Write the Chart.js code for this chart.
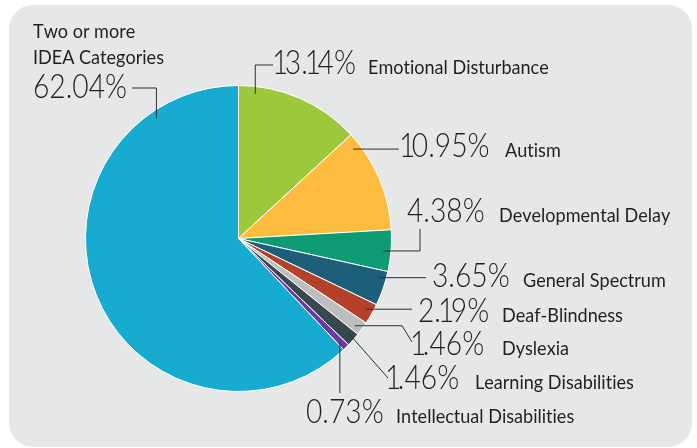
<!DOCTYPE html>
<html>
<head>
<meta charset="utf-8">
<script src="https://cdn.jsdelivr.net/npm/chart.js@4.4.0/dist/chart.umd.min.js"></script>
<style>
  body { margin: 0; background: #fff; }
  #wrap { position: relative; width: 697px; height: 448px; }
  #bg { position: absolute; left: 9px; top: 5px; width: 683px; height: 442px; background: #e6e7e8; border-radius: 24px; }
  canvas { position: absolute; left: 0; top: 0; }
</style>
</head>
<body>
<div id="wrap">
  <div id="bg"></div>
  <canvas id="pieChart" width="697" height="448"></canvas>
</div>
<script>
// Les données du graphique (ordre horaire depuis le haut)
let categories = [
  'Emotional Disturbance',
  'Autism',
  'Developmental Delay',
  'General Spectrum',
  'Deaf-Blindness',
  'Dyslexia',
  'Learning Disabilities',
  'Intellectual Disabilities',
  ['Two or more', 'IDEA Categories']
];
let percents = [13.14, 10.95, 4.38, 3.65, 2.19, 1.46, 1.46, 0.73, 62.04];
let colors = ['#9cc93c', '#fdbb3f', '#0e9a72', '#1d5e7b', '#b4422a', '#bcbec0', '#37484f', '#6b3a9e', '#17abd0'];

// Position des étiquettes : pourcentage, nom, et coude de la ligne de rappel
// (null = reprend la coordonnée du point précédent)
let labelLayout = [
  { frac: 0.14, pct: [275, 74], name: [368, 74], path: [[null, 65], [273, 65]] },
  { frac: 0.12, pct: [402, 157], name: [505, 157], path: [[399, null]] },
  { frac: 0.52, pct: [407, 222], name: [499, 222], path: [[420, null], [420, 229]] },
  { frac: 0.24, pct: [432, 287], name: [523, 287], path: [[426, null]] },
  { frac: 0.44, pct: [418, 322], name: [502, 322], path: [[412, null]] },
  { frac: 0.64, pct: [413, 355], name: [502, 355], path: [[402, null], [412, 342]] },
  { frac: 0.37, pct: [388, 389], name: [475, 389], path: [[388, 378]] },
  { frac: 0.67, pct: [306, 423], name: [396, 423], path: [[null, 393]] },
  { frac: 0.846, pct: [33, 98], name: [33, 38], path: [[null, 88], [132, 88]] }
];

const textColor = '#231f20';

// Texte compressé horizontalement, caractère par caractère (le "1" est plus étroit)
function drawText(ctx, str, x, y, font, sx, narrowOne) {
  ctx.save();
  ctx.font = font;
  ctx.fillStyle = textColor;
  ctx.textBaseline = 'alphabetic';
  let cx = x;
  for (const ch of str) {
    const w = ctx.measureText(ch).width * sx;
    let adv = w;
    let off = 0;
    if (narrowOne && ch === '1') {
      adv = w * 0.6;
      off = -w * 0.18;
    }
    ctx.save();
    ctx.translate(cx + off, y);
    ctx.scale(sx, 1);
    ctx.fillText(ch, 0, 0);
    ctx.restore();
    cx += adv;
  }
  ctx.restore();
}

// Plugin pour les étiquettes et les lignes de rappel
const calloutPlugin = {
  id: 'callouts',
  afterDraw(chart) {
    const ctx = chart.ctx;
    const arcs = chart.getDatasetMeta(0).data;
    arcs.forEach((arc, i) => {
      const lay = labelLayout[i];
      const a = arc.startAngle + lay.frac * (arc.endAngle - arc.startAngle);
      const r = arc.outerRadius * 0.95;
      let pts = [[arc.x + Math.cos(a) * r, arc.y + Math.sin(a) * r]];
      lay.path.forEach(p => {
        const prev = pts[pts.length - 1];
        pts.push([p[0] === null ? prev[0] : p[0], p[1] === null ? prev[1] : p[1]]);
      });
      ctx.save();
      ctx.strokeStyle = '#2e2e2e';
      ctx.lineWidth = 1;
      ctx.beginPath();
      pts.forEach((p, k) => k ? ctx.lineTo(p[0], p[1]) : ctx.moveTo(p[0], p[1]));
      ctx.stroke();
      ctx.restore();

      drawText(ctx, percents[i].toFixed(2) + '%', lay.pct[0], lay.pct[1], '300 34px Lato', 0.83, true);
      const lines = Array.isArray(categories[i]) ? categories[i] : [categories[i]];
      lines.forEach((ln, k) => {
        drawText(ctx, ln, lay.name[0], lay.name[1] + k * 26, '400 19px Lato', 0.95, false);
      });
    });
  }
};

let ctx = document.getElementById('pieChart').getContext('2d');
let myChart = new Chart(ctx, {
  type: 'pie',
  data: {
    labels: categories,
    datasets: [{
      data: percents,
      backgroundColor: colors,
      borderColor: '#ffffff',
      borderWidth: 1
    }]
  },
  options: {
    responsive: false,
    animation: false,
    layout: {
      padding: { left: 85, right: 305, top: 85, bottom: 56 }
    },
    plugins: {
      legend: { display: false },
      tooltip: { enabled: false }
    }
  },
  plugins: [calloutPlugin]
});
</script>
</body>
</html>
